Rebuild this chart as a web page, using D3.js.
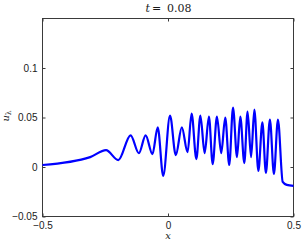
<!DOCTYPE html>
<html>
<head>
<meta charset="utf-8">
<script src="https://cdn.jsdelivr.net/npm/d3@7"></script>
<style>
  body { margin: 0; background: #fff; }
  svg { display: block; }
  .tick text { font-family: "Liberation Sans", Arial, sans-serif; font-size: 10px; fill: #1a1a1a; }
  .serif { font-family: "DejaVu Serif", "Liberation Serif", serif; fill: #1a1a1a; }
</style>
</head>
<body>
<script>
// curve (extrema and bends)
const xs = [-0.5, -0.31, -0.247, -0.198, -0.149, -0.116, -0.089, -0.062, -0.041, -0.019,
  0.008, 0.031, 0.055, 0.078, 0.094, 0.113, 0.129, 0.146, 0.163, 0.178,
  0.195, 0.212, 0.228, 0.244, 0.259, 0.275, 0.288, 0.304, 0.317, 0.331,
  0.344, 0.360, 0.376, 0.390, 0.406, 0.422, 0.438, 0.457, 0.473, 0.5];
const ys = [0.002, 0.010, 0.017, 0.007, 0.032, 0.014, 0.032, 0.013, 0.040, -0.009,
  0.052, 0.012, 0.040, 0.015, 0.054, 0.008, 0.052, 0.014, 0.051, 0.003,
  0.051, 0.014, 0.050, 0.002, 0.060, 0.010, 0.051, 0.004, 0.056, 0.010,
  0.058, -0.004, 0.045, -0.006, 0.048, -0.007, 0.048, -0.015, -0.018, -0.019];

const xTicks = [-0.5, 0, 0.5];
const yTicks = [-0.05, 0, 0.05, 0.1];
const xDomain = [-0.5, 0.5];
const yDomain = [-0.05, 0.15];

const width = 305;
const height = 240;
const margin = { left: 42.5, right: 11.5, top: 18.5, bottom: 23.5 };

const svg = d3.select('body')
  .append('svg')
  .attr('width', width)
  .attr('height', height);

const x = d3.scaleLinear()
  .domain(xDomain)
  .range([margin.left, width - margin.right]);

const y = d3.scaleLinear()
  .domain(yDomain)
  .range([height - margin.bottom, margin.top]);

const fmt = d => (d < 0 ? '\u2212' : '') + String(Math.abs(d));
const axisColor = '#3a3a3a';

// frame
svg.append('rect')
  .attr('x', x(xDomain[0]))
  .attr('y', y(yDomain[1]))
  .attr('width', x(xDomain[1]) - x(xDomain[0]))
  .attr('height', y(yDomain[0]) - y(yDomain[1]))
  .attr('fill', 'none')
  .attr('stroke', axisColor)
  .attr('stroke-width', 1);

// axes with inward ticks
svg.append('g')
  .attr('transform', `translate(0,${y(yDomain[0])})`)
  .call(d3.axisBottom(x).tickValues(xTicks).tickSize(-3).tickPadding(5).tickFormat(fmt));
svg.append('g')
  .attr('transform', `translate(${x(xDomain[0])},0)`)
  .call(d3.axisLeft(y).tickValues(yTicks).tickSize(-3).tickPadding(5).tickFormat(fmt));
svg.append('g')
  .attr('transform', `translate(0,${y(yDomain[1])})`)
  .call(d3.axisTop(x).tickValues(xTicks).tickSize(-3).tickFormat(''));
svg.append('g')
  .attr('transform', `translate(${x(xDomain[1])},0)`)
  .call(d3.axisRight(y).tickValues(yTicks).tickSize(-3).tickFormat(''));

svg.selectAll('.domain').remove();
svg.selectAll('.tick line').attr('stroke', axisColor);

// the curve
const pts = xs.map((v, i) => [v, ys[i]]);
svg.append('path')
  .datum(pts)
  .attr('fill', 'none')
  .attr('stroke', '#0000ff')
  .attr('stroke-width', 2.2)
  .attr('stroke-linejoin', 'round')
  .attr('d', d3.line()
    .x(d => x(d[0]))
    .y(d => y(d[1]))
    .curve(d3.curveMonotoneX));

// title, spaced like the LaTeX original
const title = svg.append('text')
  .attr('class', 'serif')
  .attr('y', 11.5)
  .attr('font-size', 11);
title.append('tspan').attr('x', 145.5).attr('font-style', 'italic').text('t');
title.append('tspan').attr('x', 152).text('=');
title.append('tspan').attr('x', 167).text('0.08');

svg.append('text')
  .attr('class', 'serif')
  .attr('x', x(0))
  .attr('y', 238.5)
  .attr('text-anchor', 'middle')
  .attr('font-size', 10)
  .attr('font-style', 'italic')
  .text('x');

const ylab = svg.append('text')
  .attr('class', 'serif')
  .attr('transform', `translate(9,116) rotate(-90)`)
  .attr('text-anchor', 'middle')
  .attr('font-size', 10);
ylab.append('tspan').attr('font-style', 'italic').text('u');
ylab.append('tspan').attr('font-size', 7.5).attr('dy', 2).text('λ');
</script>
</body>
</html>
